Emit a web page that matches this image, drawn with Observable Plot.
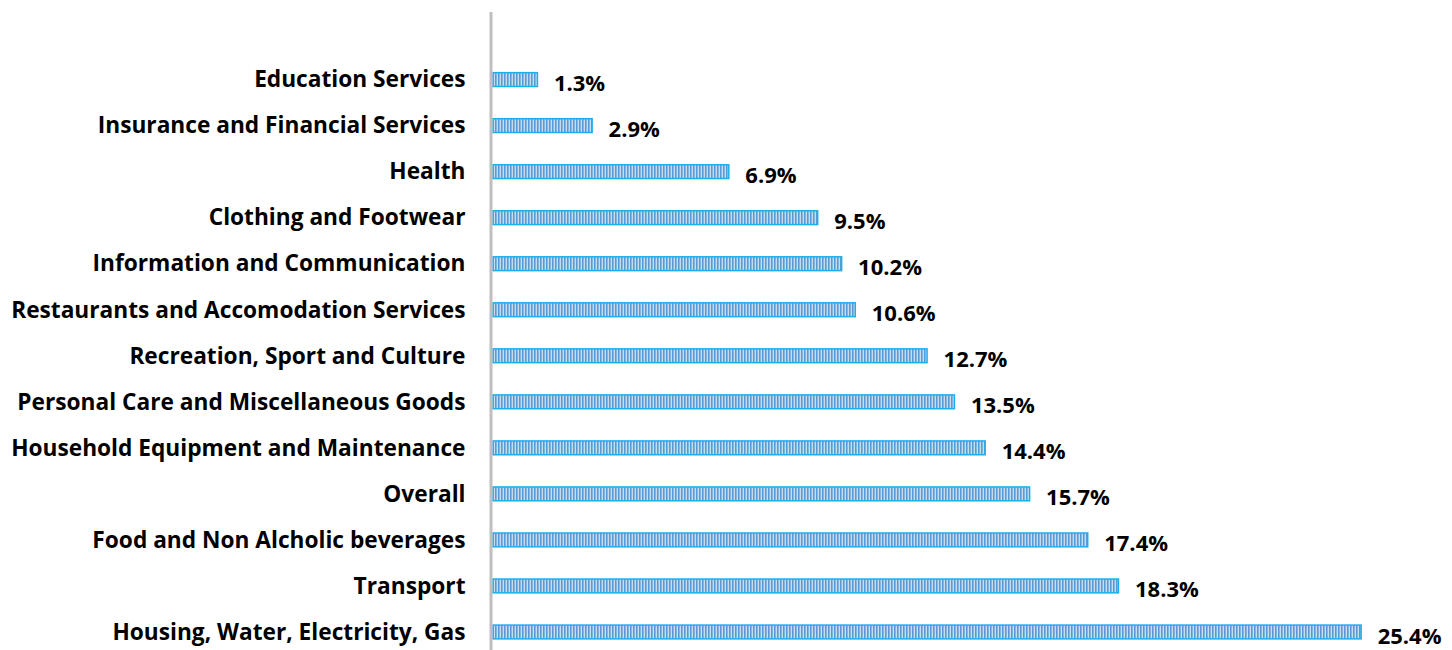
<!DOCTYPE html>
<html>
<head>
<meta charset="utf-8">
<script src="https://cdn.jsdelivr.net/npm/d3@7"></script>
<script src="https://cdn.jsdelivr.net/npm/@observablehq/plot@0.6"></script>
<style>
  html, body { margin: 0; padding: 0; background: #fff; }
  #chart svg { display: block; }
</style>
</head>
<body>
<div id="chart"></div>
<script>
const categories = [
  "Education Services",
  "Insurance and Financial Services",
  "Health",
  "Clothing and Footwear",
  "Information and Communication",
  "Restaurants and Accomodation Services",
  "Recreation, Sport and Culture",
  "Personal Care and Miscellaneous Goods",
  "Household Equipment and Maintenance",
  "Overall",
  "Food and Non Alcholic beverages",
  "Transport",
  "Housing, Water, Electricity, Gas"
];
const values = [1.3, 2.9, 6.9, 9.5, 10.2, 10.6, 12.7, 13.5, 14.4, 15.7, 17.4, 18.3, 25.4];

const data = categories.map((c, i) => ({category: c, value: values[i]}));
const font = "'Open Sans', sans-serif";

const chart = Plot.plot({
  width: 1452,
  height: 650,
  marginLeft: 493,
  marginRight: 2,
  marginTop: 12,
  marginBottom: 0,
  style: {fontFamily: font, background: "#fff"},
  x: {domain: [0, 28], axis: null},
  y: {domain: categories, paddingInner: 0.7, paddingOuter: 0.78, align: 0.845, round: false, label: null},
  marks: [
    Plot.barX(data, {
      x: "value",
      y: "category",
      fill: "url(#stripes)",
      stroke: "#1ab0ec",
      strokeWidth: 1.5
    }),
    Plot.ruleX([0], {stroke: "#bfbfbf", strokeWidth: 3, dx: -2.5}),
    Plot.axisY({
      tickSize: 0,
      tickPadding: 28,
      fontSize: 22.7,
      fontWeight: "bold",
      fill: "#000",
      label: null
    }),
    Plot.text(data, {
      x: "value",
      y: "category",
      text: d => d.value.toFixed(1) + "%",
      dx: 16,
      dy: 4,
      textAnchor: "start",
      fontSize: 22,
      fontWeight: "bold",
      fill: "#000"
    })
  ]
});

const ns = "http://www.w3.org/2000/svg";
const defs = document.createElementNS(ns, "defs");
defs.innerHTML = `<pattern id="stripes" patternUnits="userSpaceOnUse" x="0" y="0" width="3" height="10">
  <rect x="0" y="0" width="3" height="10" fill="#c5ddf3"></rect>
  <rect x="0" y="0" width="1.6" height="10" fill="#5b9bd5"></rect>
</pattern>`;
chart.insertBefore(defs, chart.firstChild);
document.getElementById("chart").appendChild(chart);
</script>
</body>
</html>
